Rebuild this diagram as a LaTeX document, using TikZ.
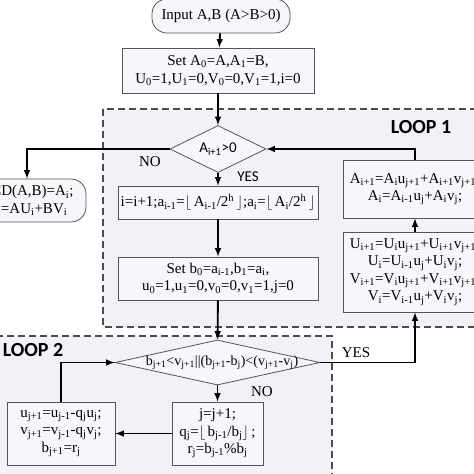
\documentclass[tikz,border=0pt]{standalone}
\usepackage{fontspec}
\setmainfont{Liberation Serif}
\newfontfamily\calibri{Carlito}
\usetikzlibrary{shapes.geometric}
\definecolor{boxfill}{RGB}{246,247,250}
\definecolor{loopfill}{RGB}{241,242,247}
\definecolor{boxline}{RGB}{85,85,85}
\newcommand{\sbs}[1]{\textsubscript{#1}}
\newcommand{\sps}[1]{\textsuperscript{#1}}
\newcommand{\flo}[1]{$\lfloor$#1$\rfloor$}

\begin{document}
\begin{tikzpicture}
  [x=1pt,y=-1pt,
   every node/.style={font=\fontsize{15}{17.5}\selectfont,align=center,inner sep=0pt},
   sans/.style={font=\calibri\fontsize{15}{17.5}\selectfont},
   tag/.style={font=\calibri\bfseries\fontsize{20}{24}\selectfont},
   proc/.style={draw=boxline,fill=boxfill,line width=.8pt},
   term/.style={proc,rounded corners=15pt},
   decide/.style={diamond,draw=boxline,fill=boxfill,line width=.8pt},
   flow/.style={line width=1.9pt,-latex},
   loopbox/.style={draw=black!70,fill=loopfill,line width=1.1pt,dash pattern=on 7pt off 4pt}]
  \useasboundingbox (0,0) rectangle (474,474);
  \clip (0,0) rectangle (474,474);
  % the two loops
  \draw[loopbox] (103,109) rectangle (490,327);
  \draw[loopbox] (-10,336) rectangle (332,490);
  \node[tag] (l1) at (421,127) {LOOP 1};
  \node[tag] (l2) at (33,350) {LOOP 2};
  % boxes
  \node[term,minimum width=138pt,minimum height=34pt] (start) at (221,16) {Input A,B (A>B>0)};
  \node[proc,minimum width=192pt,minimum height=45pt] (set1) at (218,70.5) {Set A\sbs{0}=A,A\sbs{1}=B,\\U\sbs{0}=1,U\sbs{1}=0,V\sbs{0}=0,V\sbs{1}=1,i=0};
  \node[decide,minimum width=96pt,minimum height=47pt] (d1) at (218,149) {};
  \node[sans] (d1t) at (d1) {A\sbs{i+1}>0};
  \node[term,minimum width=118pt,minimum height=43pt] (endt) at (27,200.5) {GCD(A,B)=A\sbs{i};\\A\sbs{i}=AU\sbs{i}+BV\sbs{i}};
  \node[proc,minimum width=200pt,minimum height=33pt] (step1) at (218,202.5) {i=i+1;a\sbs{i-1}=\flo{\,A\sbs{i-1}/2\sps{h}\,};a\sbs{i}=\flo{\,A\sbs{i}/2\sps{h}\,}};
  \node[proc,minimum width=200pt,minimum height=43pt] (set2) at (218,278.5) {Set b\sbs{0}=a\sbs{i-1},b\sbs{1}=a\sbs{i},\\u\sbs{0}=1,u\sbs{1}=0,v\sbs{0}=0,v\sbs{1}=1,j=0};
  \node[proc,minimum width=144pt,minimum height=58pt] (upA) at (415,189) {A\sbs{i+1}=A\sbs{i}u\sbs{j+1}+A\sbs{i+1}v\sbs{j+1};\\A\sbs{i}=A\sbs{i-1}u\sbs{j}+A\sbs{i}v\sbs{j};};
  \node[proc,minimum width=144pt,minimum height=80pt] (upU) at (415,272) {U\sbs{i+1}=U\sbs{i}u\sbs{j+1}+U\sbs{i+1}v\sbs{j+1};\\U\sbs{i}=U\sbs{i-1}u\sbs{j}+U\sbs{i}v\sbs{j};\\V\sbs{i+1}=V\sbs{i}u\sbs{j+1}+V\sbs{i+1}v\sbs{j+1};\\V\sbs{i}=V\sbs{i-1}u\sbs{j}+V\sbs{i}v\sbs{j};};
  \node[decide,minimum width=205pt,minimum height=45pt] (d2) at (217.5,362.5) {};
  \node[font=\fontsize{14}{16}\selectfont] (d2t) at (222,362.5) {b\sbs{j+1}<v\sbs{j+1}||(b\sbs{j+1}-b\sbs{j})<(v\sbs{j+1}-v\sbs{j})};
  \node[proc,minimum width=91pt,minimum height=63pt] (qbox) at (217.5,433.5) {j=j+1;\\q\sbs{j}=\flo{\,b\sbs{j-1}/b\sbs{j}}\,;\\r\sbs{j}=b\sbs{j-1}\%b\sbs{j}};
  \node[proc,minimum width=108pt,minimum height=63pt] (ubox) at (61,433.5) {u\sbs{j+1}=u\sbs{j-1}-q\sbs{j}u\sbs{j};\\v\sbs{j+1}=v\sbs{j-1}-q\sbs{j}v\sbs{j};\\b\sbs{j+1}=r\sbs{j}};
  % branch labels
  \node (no1) at (150,162) {NO};
  \node[sans] (yes1) at (248,177) {YES};
  \node (yes2) at (356,353) {YES};
  \node (no2) at (262,392) {NO};
  % connectors
  \foreach \from/\to in {start/set1,set1/d1,d1/step1,step1/set2,set2/d2,d2/qbox,qbox/ubox,upU/upA}
    \draw[flow] (\from) -- (\to);
  \draw[flow] (ubox.north) |- (d2.west);
  \draw[flow] (d2.east) -| (upU.south);
  \draw[flow] (upA.north) |- (d1.east);
  \draw[flow] (d1.west) -| (endt.north);
\end{tikzpicture}
\end{document}
